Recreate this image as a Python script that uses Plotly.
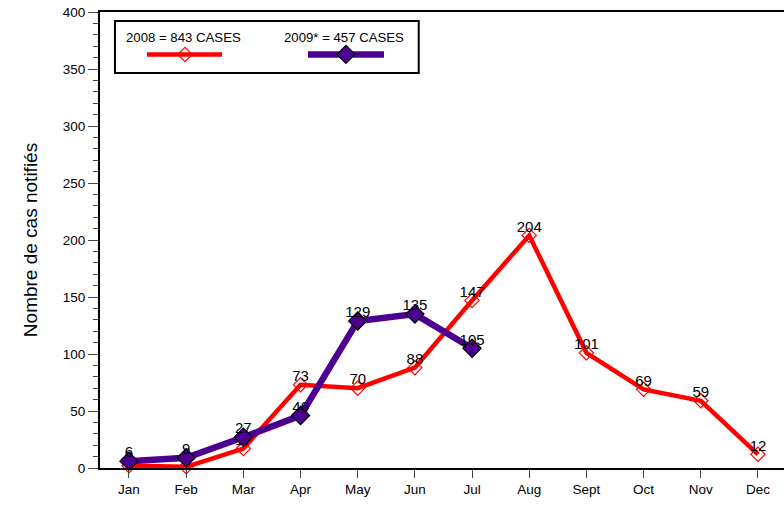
import plotly.graph_objects as go

months = ["Jan", "Feb", "Mar", "Apr", "May", "Jun", "Jul", "Aug", "Sept", "Oct", "Nov", "Dec"]
cases_2008 = [2, 1, 17, 73, 70, 88, 147, 204, 101, 69, 59, 12]
cases_2009 = [6, 9, 27, 46, 129, 135, 105]
label_2008 = "2008 = 843 CASES"
label_2009 = "2009* = 457 CASES"
y_title = "Nombre de cas notifiés"

RED = "#ff0000"
PURPLE = "#4b0092"
FONT = "Liberation Sans, Arial, sans-serif"

x08 = list(range(len(cases_2008)))
x09 = list(range(len(cases_2009)))

fig = go.Figure()
fig.add_trace(go.Scatter(
    x=x08, y=cases_2008, mode="lines+markers",
    line=dict(color=RED, width=4.5),
    marker=dict(symbol="diamond-open", size=11, color=RED, line=dict(width=1.2, color=RED)),
    showlegend=False, cliponaxis=False,
))
fig.add_trace(go.Scatter(
    x=x08, y=cases_2008, mode="text",
    marker=dict(size=2),
    text=[str(v) for v in cases_2008], textposition="top center",
    textfont=dict(family=FONT, size=15, color="black"),
    showlegend=False, cliponaxis=False, hoverinfo="skip",
))
fig.add_trace(go.Scatter(
    x=x09, y=cases_2009, mode="lines+markers",
    line=dict(color=PURPLE, width=6.5),
    marker=dict(symbol="diamond", size=14, color=PURPLE, line=dict(width=1.2, color="black")),
    showlegend=False, cliponaxis=False,
))
fig.add_trace(go.Scatter(
    x=x09, y=cases_2009, mode="text",
    marker=dict(size=2),
    text=[str(v) for v in cases_2009], textposition="top center",
    textfont=dict(family=FONT, size=15, color="black"),
    showlegend=False, cliponaxis=False, hoverinfo="skip",
))

# legend samples on an overlay axis in [0,1] paper-like coordinates
fig.add_trace(go.Scatter(
    x=[0.0687, 0.1784], y=[0.907, 0.907], mode="lines",
    line=dict(color=RED, width=4.5), xaxis="x2", yaxis="y2", showlegend=False, hoverinfo="skip"))
fig.add_trace(go.Scatter(
    x=[0.1243], y=[0.907], mode="markers",
    marker=dict(symbol="diamond-open", size=11, color=RED, line=dict(width=1.2, color=RED)),
    xaxis="x2", yaxis="y2", showlegend=False, hoverinfo="skip"))
fig.add_trace(go.Scatter(
    x=[0.3041, 0.4152], y=[0.907, 0.907], mode="lines",
    line=dict(color=PURPLE, width=6.5), xaxis="x2", yaxis="y2", showlegend=False, hoverinfo="skip"))
fig.add_trace(go.Scatter(
    x=[0.3596], y=[0.907], mode="markers",
    marker=dict(symbol="diamond", size=14, color=PURPLE, line=dict(width=1.2, color="black")),
    xaxis="x2", yaxis="y2", showlegend=False, hoverinfo="skip"))

fig.add_shape(type="rect", xref="paper", yref="paper",
              x0=0.0219, x1=0.466, y0=0.866, y1=0.980,
              line=dict(color="black", width=2), fillcolor="rgba(0,0,0,0)")
fig.add_annotation(xref="paper", yref="paper", x=0.1228, y=0.944, text=label_2008,
                   xanchor="center", yanchor="middle",
                   showarrow=False, font=dict(family=FONT, size=13.2, color="black"))
fig.add_annotation(xref="paper", yref="paper", x=0.357, y=0.944, text=label_2009,
                   xanchor="center", yanchor="middle",
                   showarrow=False, font=dict(family=FONT, size=13.2, color="black"))

fig.update_layout(
    width=784, height=505,
    margin=dict(l=100, r=0, t=12, b=37),
    paper_bgcolor="white", plot_bgcolor="white",
    font=dict(family=FONT, color="black"),
    xaxis=dict(
        range=[-0.507, 11.455], tickmode="array", tickvals=x08, ticktext=months,
        showgrid=False, zeroline=False, showline=True, linecolor="black", linewidth=2,
        mirror=True, ticks="outside", ticklen=8, tickwidth=1, tickcolor="#444",
        tickfont=dict(family=FONT, size=13.5, color="black"),
    ),
    yaxis=dict(
        range=[0, 400], tickmode="linear", tick0=0, dtick=50,
        showgrid=False, zeroline=False, showline=True, linecolor="black", linewidth=2,
        ticks="outside", ticklen=10, tickwidth=1, tickcolor="#444",
        tickfont=dict(family=FONT, size=13.5, color="black"),
        minor=dict(dtick=10, ticks="outside", ticklen=5, tickwidth=1, tickcolor="#444"),
        title=dict(text=y_title, font=dict(family=FONT, size=19, color="black"), standoff=20),
    ),
    xaxis2=dict(range=[0, 1], overlaying="x", visible=False, fixedrange=True),
    yaxis2=dict(range=[0, 1], overlaying="y", visible=False, fixedrange=True),
)

fig.write_html("out.html", config={"displayModeBar": False},
               post_script="document.body.style.margin='0';")
